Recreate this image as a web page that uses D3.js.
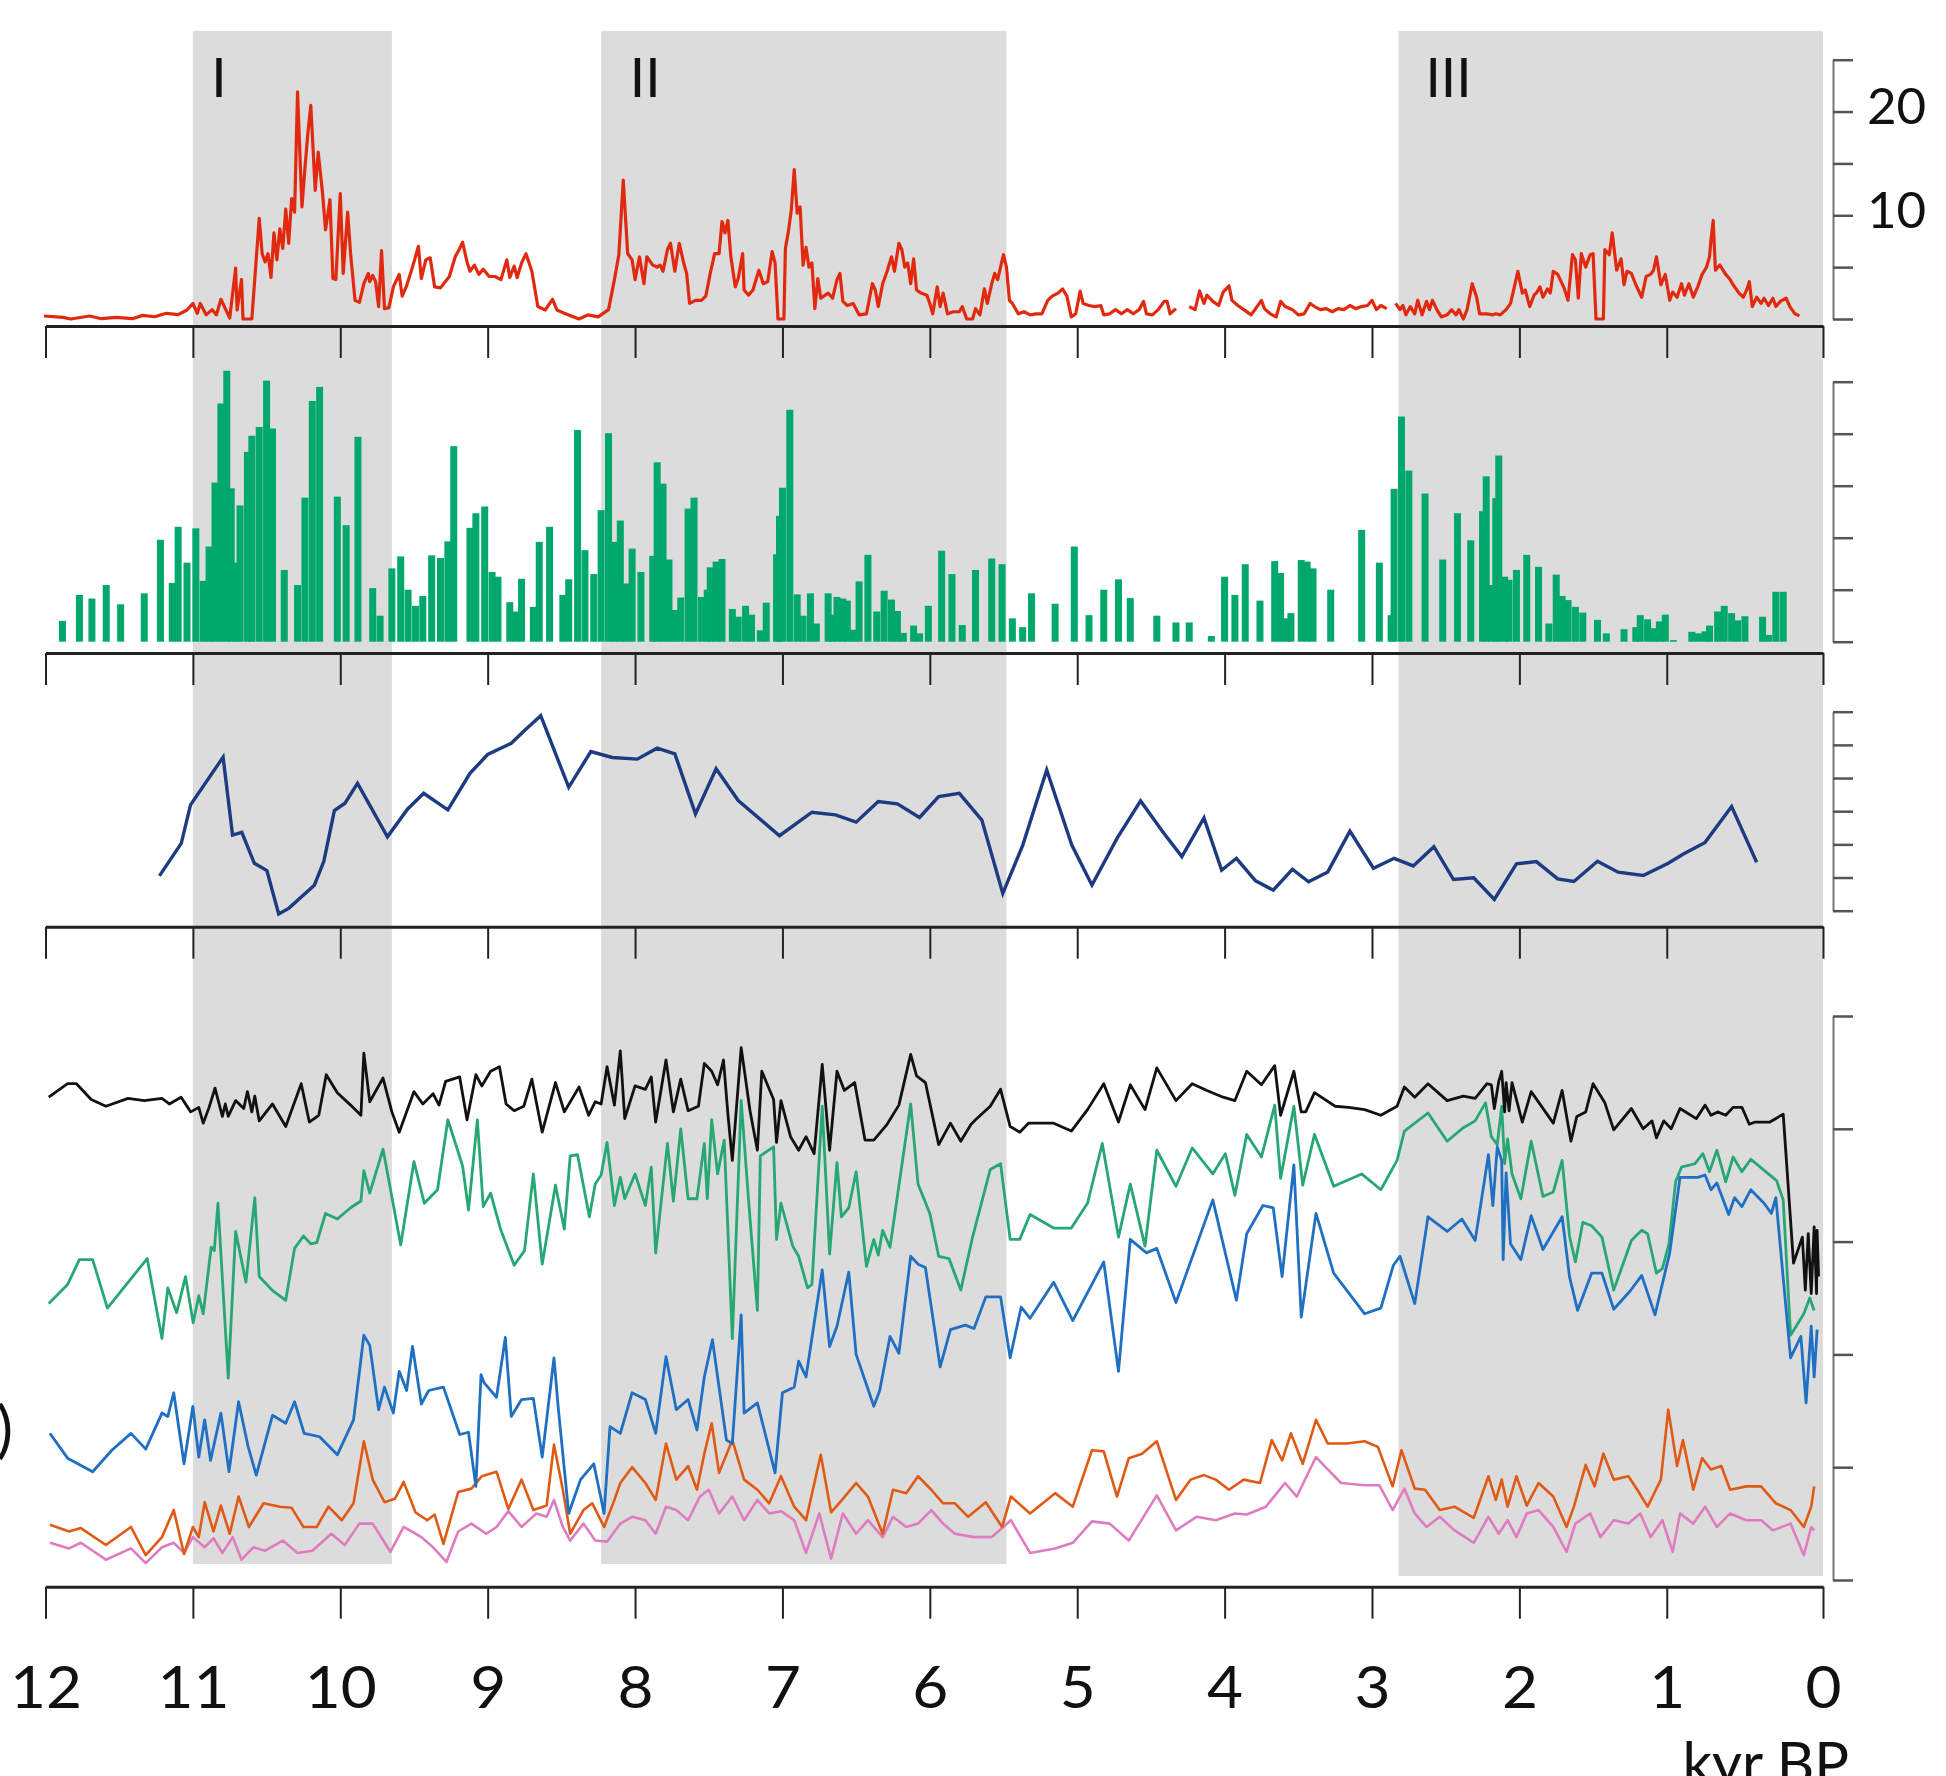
<!DOCTYPE html>
<html>
<head>
<meta charset="utf-8">
<script src="https://cdn.jsdelivr.net/npm/d3@7"></script>
<style>
  html, body { margin: 0; padding: 0; background: #fff; }
  svg { display: block; font-family: Lato, "Open Sans", sans-serif; }
</style>
</head>
<body>
<svg id="chart" width="1946" height="1776"></svg>
<script>
// shaded intervals (kyr BP) and their labels
const bands = [[11.0, 9.65], [8.23, 5.48], [2.82, -0.06]];
const bandLabels = ["I", "II", "III"];

// top record, [age, value]; null = gap in the record
const redSeries = [[12.01,0.29],[11.88,0.16],[11.83,0],[11.70,0.29],[11.62,0.03],[11.52,0.16],[11.41,0.03],[11.34,0.35],[11.26,0.22],[11.18,0.55],[11.10,0.42],[11.04,0.87],[11.00,1.5],[10.97,0.55],[10.95,1.5],[10.91,0.4],[10.87,0.9],[10.84,0.4],[10.81,1.9],[10.78,1.0],[10.75,0.1],[10.71,4.9],[10.70,0.87],[10.67,3.8],[10.66,0],[10.60,0],[10.55,9.7],[10.53,6.3],[10.51,5.5],[10.49,6.3],[10.47,4.0],[10.45,8.3],[10.43,5.7],[10.41,8.7],[10.39,6.8],[10.37,10.6],[10.35,7.3],[10.33,11.6],[10.31,10.3],[10.29,21.9],[10.26,10.8],[10.24,14.5],[10.22,17.9],[10.20,20.6],[10.19,17.9],[10.17,12.4],[10.15,16.1],[10.12,12.1],[10.10,8.6],[10.07,11.5],[10.05,3.9],[10.03,3.8],[10.00,12.1],[9.98,4.4],[9.95,10.3],[9.93,6.3],[9.90,1.8],[9.87,1.6],[9.84,3.4],[9.81,4.4],[9.80,3.6],[9.78,4.2],[9.76,3.6],[9.74,1.2],[9.72,6.6],[9.70,1.0],[9.67,1.1],[9.64,3.1],[9.60,4.3],[9.58,2.2],[9.55,3.2],[9.51,5.0],[9.47,7.0],[9.45,3.9],[9.42,5.7],[9.39,5.9],[9.36,3.1],[9.32,3.0],[9.26,4.1],[9.22,6.0],[9.19,6.8],[9.17,7.4],[9.14,5.5],[9.12,4.6],[9.09,5.2],[9.06,4.3],[9.03,4.8],[8.99,4.1],[8.95,4.1],[8.91,3.8],[8.87,5.7],[8.85,4.0],[8.82,5.1],[8.80,4.0],[8.77,5.4],[8.74,6.3],[8.70,4.6],[8.66,1.2],[8.61,0.87],[8.56,1.9],[8.53,0.87],[8.48,0.55],[8.42,0.22],[8.38,0],[8.32,0.4],[8.25,0.2],[8.18,0.9],[8.14,3.8],[8.11,6.2],[8.08,13.4],[8.05,6.3],[8.02,5.7],[8.00,3.8],[7.97,6.0],[7.94,3.4],[7.92,6.0],[7.88,5.2],[7.85,5.0],[7.83,5.2],[7.81,4.6],[7.78,6.7],[7.76,7.3],[7.73,4.6],[7.70,7.3],[7.67,5.4],[7.65,4.4],[7.63,1.5],[7.59,1.8],[7.55,1.8],[7.52,2.2],[7.49,4.4],[7.46,6.3],[7.43,6.3],[7.41,9.4],[7.39,8.3],[7.37,9.5],[7.35,6.0],[7.32,3.1],[7.30,3.9],[7.27,6.3],[7.26,2.8],[7.23,2.3],[7.20,2.8],[7.16,4.7],[7.13,3.4],[7.10,3.6],[7.07,6.5],[7.05,5.4],[7.03,0],[6.99,0],[6.98,6.8],[6.96,8.4],[6.94,10.5],[6.92,14.4],[6.90,10.2],[6.88,10.8],[6.86,5.2],[6.84,6.9],[6.82,5.0],[6.80,5.4],[6.78,1.0],[6.76,3.9],[6.74,2.0],[6.71,2.3],[6.69,2.5],[6.66,2.0],[6.63,3.8],[6.61,4.4],[6.59,1.7],[6.56,1.3],[6.52,1.5],[6.48,0.4],[6.43,0.5],[6.39,3.4],[6.37,2.8],[6.35,1.2],[6.32,3.4],[6.29,4.6],[6.26,6.0],[6.24,4.6],[6.21,7.3],[6.19,6.7],[6.17,5.0],[6.15,5.4],[6.13,3.4],[6.11,5.8],[6.09,2.8],[6.06,2.5],[6.02,2.3],[6.00,1.5],[5.98,0.5],[5.95,3.1],[5.93,1.2],[5.91,2.5],[5.88,0.5],[5.84,0.7],[5.80,0.7],[5.78,1.2],[5.75,0],[5.71,0],[5.69,1.0],[5.66,0.4],[5.63,2.9],[5.61,1.5],[5.58,3.4],[5.56,4.4],[5.54,3.8],[5.50,6.2],[5.48,5.0],[5.46,1.8],[5.44,1.5],[5.40,0.5],[5.36,0.7],[5.32,0.4],[5.28,0.5],[5.24,0.5],[5.20,1.8],[5.17,2.2],[5.13,2.5],[5.10,2.9],[5.07,2.2],[5.04,0.2],[5.01,0.5],[4.98,2.7],[4.96,1.5],[4.92,1.3],[4.88,1.2],[4.84,1.3],[4.82,0.4],[4.78,0.5],[4.74,0.9],[4.70,0.5],[4.66,0.9],[4.62,0.5],[4.58,0.9],[4.55,1.7],[4.53,0.5],[4.49,0.4],[4.45,0.9],[4.41,1.7],[4.39,1.7],[4.37,0.5],[4.33,1.0],[4.29,null],[4.24,1.2],[4.20,0.9],[4.17,2.7],[4.14,1.5],[4.12,2.3],[4.08,1.7],[4.04,1.3],[4.01,2.6],[3.97,3.2],[3.95,1.8],[3.91,1.3],[3.87,0.9],[3.82,0.4],[3.78,1.2],[3.75,1.8],[3.73,1.0],[3.69,0.5],[3.65,0.2],[3.62,1.7],[3.59,1.2],[3.54,0.9],[3.50,0.4],[3.46,0.5],[3.42,1.5],[3.39,1.2],[3.35,0.9],[3.31,1.0],[3.27,0.7],[3.23,1.0],[3.19,0.9],[3.15,1.3],[3.11,1.0],[3.07,1.2],[3.03,1.3],[3.00,1.8],[2.97,0.9],[2.94,1.3],[2.90,1.0],[2.87,null],[2.84,1.5],[2.81,0.9],[2.79,1.3],[2.77,0.4],[2.74,1.2],[2.71,0.5],[2.69,1.8],[2.66,0.4],[2.63,1.7],[2.61,0.9],[2.59,1.8],[2.56,0.9],[2.53,0.2],[2.49,0.4],[2.46,0.9],[2.43,0.4],[2.41,0.9],[2.38,0],[2.355,0.9],[2.32,3.4],[2.29,2.1],[2.27,0.5],[2.22,0.5],[2.18,0.4],[2.16,0.5],[2.13,0.4],[2.09,0.9],[2.06,1.5],[2.01,4.6],[1.98,2.5],[1.96,2.8],[1.93,1.2],[1.90,2.3],[1.88,2.6],[1.86,3.1],[1.84,2.1],[1.81,2.9],[1.79,2.5],[1.77,4.6],[1.74,4.3],[1.70,3.1],[1.67,1.8],[1.64,6.2],[1.62,5.7],[1.60,2.0],[1.58,6.3],[1.55,5.0],[1.52,6.2],[1.50,6.3],[1.48,0],[1.43,0],[1.42,6.7],[1.39,6.2],[1.37,8.3],[1.34,4.7],[1.31,5.8],[1.29,3.3],[1.27,4.6],[1.24,4.4],[1.21,3.3],[1.17,2.1],[1.14,4.1],[1.11,4.3],[1.09,4.7],[1.07,6.0],[1.04,3.3],[1.01,4.3],[0.98,1.8],[0.96,2.6],[0.93,2.1],[0.90,3.4],[0.88,2.3],[0.85,3.4],[0.82,2.1],[0.79,3.1],[0.76,4.3],[0.73,5.0],[0.71,6.0],[0.70,7.6],[0.685,9.5],[0.67,4.7],[0.64,5.2],[0.60,4.3],[0.57,3.8],[0.55,3.3],[0.51,2.5],[0.48,2.1],[0.455,2.9],[0.44,3.6],[0.42,1.2],[0.39,2.1],[0.36,1.5],[0.34,2.0],[0.31,1.3],[0.28,2.0],[0.26,1.2],[0.23,1.7],[0.19,2.0],[0.165,1.2],[0.13,0.5],[0.10,0.3]];

// second record, bars, [age, value]
const greenBars = [[11.885,0.40],[11.77,0.90],[11.685,0.83],[11.588,1.09],[11.49,0.72],[11.33,0.93],[11.22,1.96],[11.14,1.13],[11.10,2.21],[11.04,1.52],[10.98,2.18],[10.93,1.17],[10.89,1.83],[10.85,3.06],[10.81,4.58],[10.77,5.21],[10.74,2.95],[10.71,1.52],[10.68,2.62],[10.63,3.65],[10.60,3.96],[10.55,4.13],[10.50,5.02],[10.46,4.10],[10.38,1.38],[10.29,1.09],[10.24,2.77],[10.19,4.63],[10.14,4.90],[10.02,2.79],[9.96,2.24],[9.88,3.94],[9.78,1.03],[9.73,0.50],[9.65,1.41],[9.59,1.64],[9.54,1.00],[9.49,0.69],[9.44,0.88],[9.38,1.66],[9.32,1.61],[9.27,1.93],[9.23,3.76],[9.12,2.19],[9.08,2.47],[9.02,2.60],[8.97,1.34],[8.93,1.25],[8.85,0.76],[8.81,0.58],[8.77,1.21],[8.69,0.67],[8.65,1.92],[8.58,2.21],[8.49,0.90],[8.45,1.20],[8.39,4.07],[8.34,1.76],[8.28,1.30],[8.23,2.53],[8.18,4.01],[8.14,1.92],[8.10,2.33],[8.06,1.12],[8.02,1.79],[7.96,1.34],[7.88,1.65],[7.85,3.45],[7.81,3.04],[7.77,1.58],[7.73,0.61],[7.69,0.85],[7.64,2.56],[7.60,2.77],[7.55,0.86],[7.51,1.00],[7.49,1.43],[7.45,1.54],[7.41,1.59],[7.34,0.63],[7.30,0.48],[7.25,0.69],[7.21,0.52],[7.15,0.22],[7.11,0.75],[7.04,1.68],[7.02,2.42],[7.00,2.96],[6.95,4.46],[6.90,0.91],[6.86,0.50],[6.81,0.93],[6.77,0.35],[6.69,0.93],[6.66,0.52],[6.63,0.86],[6.59,0.83],[6.56,0.79],[6.52,0.23],[6.48,1.16],[6.42,1.67],[6.36,0.58],[6.31,0.98],[6.26,0.81],[6.22,0.59],[6.18,0.17],[6.11,0.31],[6.07,0.16],[6.01,0.69],[5.92,1.75],[5.85,1.30],[5.78,0.32],[5.69,1.38],[5.58,1.60],[5.51,1.49],[5.44,0.45],[5.37,0.28],[5.31,0.93],[5.15,0.73],[5.02,1.83],[4.92,0.51],[4.82,1.00],[4.72,1.20],[4.64,0.84],[4.46,0.50],[4.33,0.37],[4.24,0.37],[4.09,0.11],[4.00,1.25],[3.93,0.90],[3.86,1.49],[3.76,0.79],[3.66,1.55],[3.62,1.32],[3.58,0.45],[3.55,0.55],[3.48,1.57],[3.44,1.54],[3.40,1.41],[3.28,1.00],[3.07,2.15],[2.95,1.52],[2.87,0.51],[2.85,2.94],[2.80,4.33],[2.75,3.29],[2.64,2.85],[2.52,1.58],[2.42,2.47],[2.33,1.95],[2.25,2.51],[2.225,3.18],[2.19,1.09],[2.16,2.76],[2.14,3.58],[2.10,1.25],[2.07,1.19],[2.02,1.38],[1.95,1.67],[1.87,1.44],[1.80,0.35],[1.75,1.29],[1.71,0.88],[1.67,0.80],[1.62,0.67],[1.57,0.56],[1.47,0.42],[1.41,0.16],[1.29,0.24],[1.21,0.28],[1.18,0.51],[1.13,0.43],[1.09,0.26],[1.05,0.39],[1.01,0.52],[0.955,0.03],[0.83,0.19],[0.785,0.16],[0.74,0.20],[0.71,0.31],[0.655,0.58],[0.61,0.69],[0.56,0.55],[0.52,0.41],[0.47,0.49],[0.35,0.48],[0.31,0.13],[0.26,0.96],[0.21,0.96]];

// third record, [age, value]
const navySeries = [[11.227,1.05],[11.079,2.03],[11.016,3.19],[10.795,4.63],[10.731,2.28],[10.668,2.36],[10.583,1.43],[10.498,1.21],[10.418,-0.10],[10.35,0.07],[10.176,0.77],[10.112,1.48],[10.04,3.02],[9.968,3.24],[9.883,3.84],[9.68,2.23],[9.544,3.06],[9.434,3.54],[9.27,3.04],[9.12,4.14],[9.0,4.71],[8.84,5.05],[8.75,5.43],[8.64,5.88],[8.45,3.72],[8.30,4.80],[8.155,4.62],[7.985,4.57],[7.85,4.90],[7.73,4.73],[7.59,2.92],[7.45,4.28],[7.30,3.32],[7.02,2.26],[6.80,2.97],[6.64,2.89],[6.50,2.67],[6.35,3.29],[6.22,3.22],[6.07,2.81],[5.94,3.44],[5.80,3.54],[5.647,2.73],[5.505,0.52],[5.37,1.97],[5.207,4.24],[5.036,1.97],[4.90,0.77],[4.73,2.18],[4.57,3.31],[4.42,2.38],[4.29,1.63],[4.14,2.80],[4.02,1.22],[3.92,1.58],[3.79,0.90],[3.67,0.62],[3.54,1.25],[3.43,0.87],[3.30,1.17],[3.15,2.40],[2.99,1.28],[2.85,1.58],[2.72,1.35],[2.58,1.93],[2.447,0.94],[2.31,0.99],[2.17,0.34],[2.02,1.41],[1.885,1.48],[1.74,0.96],[1.63,0.88],[1.47,1.49],[1.33,1.16],[1.16,1.06],[0.99,1.43],[0.89,1.70],[0.74,2.06],[0.56,3.14],[0.39,1.46]];

// bottom panel, five curves, [age, value]
const blackSeries = [[11.978,4.28],[11.85,4.40],[11.79,4.40],[11.69,4.26],[11.59,4.20],[11.44,4.27],[11.33,4.25],[11.21,4.27],[11.16,4.22],[11.08,4.28],[11.015,4.15],[10.96,4.19],[10.93,4.05],[10.89,4.19],[10.85,4.36],[10.80,4.11],[10.78,4.22],[10.76,4.11],[10.71,4.25],[10.655,4.18],[10.63,4.33],[10.60,4.15],[10.58,4.29],[10.55,4.07],[10.46,4.22],[10.37,4.02],[10.265,4.40],[10.21,4.06],[10.146,4.12],[10.095,4.48],[10.02,4.32],[9.93,4.21],[9.86,4.12],[9.84,4.67],[9.80,4.24],[9.71,4.45],[9.65,4.15],[9.60,3.97],[9.50,4.33],[9.44,4.22],[9.37,4.31],[9.33,4.21],[9.285,4.42],[9.19,4.46],[9.14,4.08],[9.08,4.48],[9.04,4.38],[8.98,4.51],[8.92,4.55],[8.875,4.22],[8.82,4.16],[8.755,4.20],[8.70,4.44],[8.63,3.97],[8.54,4.41],[8.48,4.15],[8.38,4.37],[8.315,4.12],[8.27,4.24],[8.23,4.22],[8.19,4.55],[8.14,4.21],[8.10,4.69],[8.07,4.09],[8.00,4.38],[7.93,4.35],[7.89,4.46],[7.86,4.06],[7.79,4.61],[7.74,4.15],[7.69,4.44],[7.64,4.16],[7.57,4.20],[7.53,4.58],[7.48,4.51],[7.44,4.39],[7.40,4.61],[7.37,4.13],[7.34,3.72],[7.28,4.72],[7.22,4.16],[7.17,3.81],[7.14,4.51],[7.06,4.26],[7.04,3.88],[7.01,4.25],[6.945,3.93],[6.89,3.81],[6.84,3.93],[6.785,3.78],[6.73,4.57],[6.68,3.81],[6.63,4.51],[6.58,4.34],[6.51,4.41],[6.44,3.90],[6.38,3.90],[6.29,4.04],[6.21,4.21],[6.13,4.66],[6.09,4.47],[6.03,4.41],[5.94,3.86],[5.86,4.05],[5.79,3.89],[5.72,4.04],[5.69,4.08],[5.59,4.20],[5.52,4.35],[5.455,4.02],[5.39,3.97],[5.33,4.05],[5.16,4.05],[5.04,3.98],[4.93,4.17],[4.82,4.40],[4.72,4.06],[4.64,4.39],[4.54,4.17],[4.46,4.54],[4.33,4.25],[4.22,4.40],[4.12,4.34],[4.01,4.28],[3.93,4.25],[3.85,4.51],[3.75,4.39],[3.66,4.56],[3.62,4.12],[3.53,4.51],[3.48,4.15],[3.45,4.15],[3.39,4.32],[3.25,4.20],[3.16,4.19],[3.05,4.17],[2.94,4.12],[2.83,4.20],[2.78,4.37],[2.71,4.28],[2.62,4.40],[2.49,4.25],[2.38,4.29],[2.30,4.27],[2.22,4.40],[2.19,4.39],[2.17,4.18],[2.14,4.42],[2.12,4.51],[2.10,4.15],[2.09,4.41],[2.07,4.16],[2.05,4.41],[1.98,4.06],[1.92,4.33],[1.77,4.05],[1.71,4.34],[1.65,3.89],[1.61,4.11],[1.55,4.15],[1.50,4.40],[1.42,4.23],[1.36,3.99],[1.24,4.18],[1.16,4.00],[1.10,4.07],[1.07,3.92],[1.02,4.07],[0.97,4.00],[0.91,4.18],[0.80,4.09],[0.74,4.21],[0.70,4.12],[0.655,4.15],[0.60,4.12],[0.55,4.19],[0.49,4.19],[0.44,4.04],[0.40,4.06],[0.30,4.06],[0.21,4.13],[0.14,2.81],[0.08,3.04],[0.06,2.57],[0.04,3.07],[0.02,2.54],[0.0,3.13],[-0.016,2.54],[-0.02,3.10],[-0.03,2.69]];

const tealSeries = [[11.978,2.45],[11.85,2.62],[11.77,2.84],[11.68,2.84],[11.58,2.41],[11.31,2.85],[11.21,2.14],[11.17,2.59],[11.11,2.37],[11.05,2.69],[10.998,2.28],[10.96,2.52],[10.93,2.36],[10.876,2.95],[10.855,2.92],[10.83,3.34],[10.76,1.79],[10.71,3.09],[10.64,2.64],[10.58,3.39],[10.55,2.69],[10.455,2.56],[10.37,2.48],[10.31,2.94],[10.25,3.05],[10.20,2.98],[10.16,2.99],[10.10,3.25],[10.02,3.20],[9.93,3.30],[9.86,3.36],[9.84,3.63],[9.80,3.43],[9.71,3.82],[9.59,2.97],[9.50,3.71],[9.43,3.34],[9.34,3.46],[9.27,4.08],[9.17,3.67],[9.13,3.28],[9.07,4.08],[9.03,3.31],[8.98,3.43],[8.91,3.10],[8.82,2.79],[8.75,2.92],[8.69,3.60],[8.63,2.80],[8.54,3.50],[8.48,3.11],[8.44,3.76],[8.39,3.77],[8.31,3.22],[8.27,3.51],[8.23,3.59],[8.19,3.88],[8.14,3.32],[8.10,3.57],[8.07,3.38],[8.00,3.60],[7.93,3.32],[7.89,3.66],[7.86,2.90],[7.78,3.87],[7.74,3.36],[7.69,4.00],[7.64,3.38],[7.58,3.38],[7.53,3.87],[7.51,3.38],[7.48,4.08],[7.44,3.60],[7.395,3.90],[7.34,2.14],[7.28,4.25],[7.23,3.37],[7.17,2.39],[7.15,3.76],[7.06,3.84],[7.04,3.02],[7.01,3.34],[6.93,2.96],[6.89,2.87],[6.83,2.59],[6.80,2.62],[6.73,4.20],[6.68,2.89],[6.63,3.70],[6.60,3.22],[6.55,3.30],[6.50,3.62],[6.43,2.78],[6.38,3.02],[6.35,2.88],[6.32,3.10],[6.27,2.95],[6.13,4.22],[6.08,3.51],[6.00,3.25],[5.94,2.87],[5.87,2.85],[5.79,2.57],[5.71,3.04],[5.59,3.64],[5.52,3.69],[5.455,3.02],[5.39,3.02],[5.32,3.24],[5.16,3.12],[5.04,3.12],[4.93,3.34],[4.83,3.87],[4.72,3.04],[4.64,3.51],[4.54,2.96],[4.46,3.81],[4.33,3.49],[4.22,3.83],[4.08,3.60],[3.995,3.78],[3.93,3.41],[3.85,3.95],[3.75,3.75],[3.66,4.21],[3.62,3.56],[3.53,4.20],[3.47,3.50],[3.39,3.95],[3.26,3.49],[3.07,3.60],[2.94,3.46],[2.83,3.72],[2.78,3.98],[2.62,4.14],[2.49,3.89],[2.38,4.01],[2.30,4.07],[2.23,4.23],[2.19,3.93],[2.15,3.86],[2.12,4.20],[2.10,3.69],[2.08,3.91],[2.05,3.60],[1.99,3.38],[1.92,3.89],[1.84,3.40],[1.77,3.44],[1.71,3.72],[1.66,3.05],[1.62,2.82],[1.57,3.17],[1.51,3.14],[1.44,3.04],[1.36,2.57],[1.24,3.01],[1.17,3.10],[1.13,3.07],[1.07,2.72],[1.03,2.76],[0.985,2.98],[0.94,3.53],[0.90,3.66],[0.81,3.69],[0.755,3.78],[0.71,3.62],[0.66,3.81],[0.60,3.53],[0.55,3.75],[0.49,3.62],[0.43,3.73],[0.30,3.59],[0.255,3.54],[0.21,3.37],[0.16,2.17],[0.07,2.36],[0.03,2.50],[0.0,2.39]];

const blueSeries = [[11.97,1.30],[11.85,1.08],[11.68,0.96],[11.55,1.15],[11.42,1.30],[11.32,1.16],[11.21,1.48],[11.17,1.45],[11.13,1.66],[11.06,1.03],[11.00,1.54],[10.96,1.09],[10.92,1.42],[10.88,1.06],[10.81,1.48],[10.755,0.96],[10.69,1.58],[10.625,1.18],[10.57,0.93],[10.46,1.46],[10.37,1.39],[10.31,1.58],[10.245,1.30],[10.14,1.27],[10.02,1.11],[9.91,1.42],[9.84,2.17],[9.80,2.08],[9.74,1.51],[9.70,1.71],[9.64,1.48],[9.60,1.85],[9.55,1.68],[9.51,2.07],[9.45,1.56],[9.40,1.68],[9.30,1.71],[9.19,1.29],[9.13,1.31],[9.08,0.83],[9.045,1.82],[9.025,1.75],[8.94,1.62],[8.88,2.15],[8.84,1.45],[8.77,1.60],[8.69,1.61],[8.63,1.09],[8.55,1.97],[8.52,1.51],[8.45,0.59],[8.37,0.89],[8.28,1.03],[8.21,0.59],[8.17,1.36],[8.10,1.30],[8.02,1.66],[7.93,1.60],[7.86,1.30],[7.79,1.98],[7.72,1.51],[7.64,1.60],[7.58,1.33],[7.53,1.80],[7.475,2.13],[7.38,1.24],[7.34,1.21],[7.28,2.35],[7.26,1.48],[7.17,1.57],[7.05,0.95],[7.00,1.66],[6.92,1.71],[6.89,1.94],[6.84,1.80],[6.73,2.75],[6.68,2.07],[6.63,2.25],[6.55,2.73],[6.50,2.00],[6.38,1.54],[6.34,1.68],[6.27,2.16],[6.21,2.01],[6.13,2.87],[6.08,2.80],[6.03,2.77],[5.93,1.89],[5.86,2.22],[5.76,2.26],[5.70,2.23],[5.62,2.51],[5.52,2.51],[5.455,1.97],[5.38,2.42],[5.32,2.32],[5.16,2.64],[5.03,2.30],[4.82,2.82],[4.72,1.85],[4.64,3.02],[4.53,2.90],[4.46,2.94],[4.33,2.46],[4.08,3.37],[3.92,2.48],[3.85,3.07],[3.74,3.32],[3.67,3.30],[3.61,2.69],[3.53,3.68],[3.48,2.33],[3.38,3.25],[3.26,2.72],[3.05,2.36],[2.94,2.41],[2.855,2.79],[2.81,2.87],[2.71,2.45],[2.62,3.22],[2.49,3.09],[2.39,3.20],[2.30,3.01],[2.21,3.77],[2.18,3.32],[2.15,3.84],[2.12,3.72],[2.11,2.84],[2.09,3.61],[2.06,2.98],[1.99,2.84],[1.92,3.23],[1.84,2.93],[1.71,3.22],[1.66,2.69],[1.605,2.39],[1.51,2.72],[1.44,2.72],[1.36,2.40],[1.25,2.56],[1.17,2.70],[1.08,2.35],[0.98,2.90],[0.91,3.57],[0.79,3.57],[0.74,3.59],[0.70,3.46],[0.66,3.52],[0.58,3.24],[0.54,3.39],[0.49,3.31],[0.43,3.46],[0.34,3.34],[0.29,3.25],[0.26,3.39],[0.16,1.97],[0.09,2.16],[0.055,1.57],[0.02,2.25],[0.0,1.80],[-0.02,2.22]];

const orangeSeries = [[11.97,0.49],[11.84,0.43],[11.76,0.46],[11.59,0.31],[11.42,0.47],[11.32,0.22],[11.21,0.38],[11.13,0.62],[11.06,0.23],[11.0,0.47],[10.96,0.38],[10.92,0.69],[10.86,0.43],[10.81,0.66],[10.75,0.41],[10.69,0.74],[10.62,0.47],[10.52,0.68],[10.41,0.65],[10.33,0.64],[10.25,0.47],[10.16,0.47],[10.08,0.65],[9.99,0.53],[9.91,0.68],[9.84,1.23],[9.78,0.89],[9.70,0.69],[9.63,0.72],[9.57,0.87],[9.49,0.60],[9.41,0.53],[9.36,0.58],[9.30,0.32],[9.20,0.78],[9.11,0.81],[9.04,0.92],[8.94,0.96],[8.86,0.63],[8.77,0.89],[8.69,0.62],[8.60,0.66],[8.55,1.20],[8.49,0.80],[8.44,0.41],[8.35,0.62],[8.29,0.68],[8.21,0.47],[8.14,0.71],[8.10,0.86],[8.02,1.00],[7.93,0.86],[7.86,0.71],[7.79,1.21],[7.72,0.89],[7.64,1.01],[7.58,0.80],[7.53,1.12],[7.48,1.39],[7.43,0.95],[7.34,1.24],[7.26,0.89],[7.17,0.80],[7.09,0.68],[7.01,0.92],[6.92,0.65],[6.84,0.53],[6.74,1.11],[6.67,0.60],[6.59,0.72],[6.50,0.86],[6.42,0.74],[6.32,0.41],[6.25,0.80],[6.16,0.77],[6.08,0.92],[5.99,0.80],[5.91,0.68],[5.83,0.68],[5.74,0.56],[5.62,0.69],[5.51,0.47],[5.45,0.74],[5.32,0.59],[5.15,0.77],[5.03,0.65],[4.90,1.15],[4.82,1.14],[4.73,0.74],[4.65,1.08],[4.56,1.12],[4.46,1.23],[4.33,0.71],[4.23,0.89],[4.14,0.93],[4.06,0.89],[3.97,0.80],[3.87,0.89],[3.76,0.86],[3.68,1.24],[3.61,1.06],[3.55,1.30],[3.47,1.03],[3.38,1.42],[3.30,1.21],[3.17,1.21],[3.05,1.23],[2.96,1.18],[2.86,0.83],[2.80,1.15],[2.71,0.81],[2.64,0.80],[2.54,0.62],[2.44,0.65],[2.31,0.55],[2.21,0.92],[2.16,0.71],[2.12,0.89],[2.08,0.65],[2.02,0.92],[1.95,0.66],[1.87,0.86],[1.77,0.74],[1.68,0.47],[1.63,0.65],[1.55,1.02],[1.49,0.83],[1.43,1.12],[1.36,0.89],[1.26,0.92],[1.20,0.80],[1.13,0.65],[1.04,0.89],[0.99,1.51],[0.93,1.01],[0.89,1.24],[0.82,0.80],[0.76,1.08],[0.70,0.98],[0.63,1.01],[0.57,0.80],[0.46,0.83],[0.36,0.83],[0.26,0.68],[0.16,0.62],[0.07,0.47],[0.02,0.65],[0.0,0.83]];

const pinkSeries = [[11.97,0.33],[11.84,0.28],[11.76,0.33],[11.59,0.18],[11.42,0.28],[11.32,0.15],[11.21,0.29],[11.13,0.33],[11.06,0.24],[11.0,0.38],[10.92,0.29],[10.86,0.37],[10.80,0.24],[10.73,0.38],[10.67,0.18],[10.59,0.29],[10.51,0.26],[10.39,0.35],[10.29,0.24],[10.19,0.26],[10.06,0.41],[9.97,0.31],[9.87,0.50],[9.78,0.50],[9.66,0.25],[9.57,0.47],[9.45,0.38],[9.37,0.29],[9.28,0.16],[9.20,0.43],[9.11,0.50],[9.01,0.41],[8.94,0.47],[8.86,0.61],[8.77,0.47],[8.67,0.59],[8.60,0.56],[8.55,0.71],[8.49,0.47],[8.44,0.35],[8.35,0.50],[8.27,0.35],[8.19,0.34],[8.10,0.50],[8.02,0.56],[7.93,0.53],[7.86,0.41],[7.79,0.65],[7.72,0.62],[7.64,0.53],[7.56,0.74],[7.50,0.80],[7.43,0.59],[7.34,0.74],[7.26,0.53],[7.17,0.71],[7.09,0.59],[7.01,0.61],[6.92,0.53],[6.84,0.24],[6.75,0.59],[6.67,0.19],[6.59,0.59],[6.50,0.41],[6.42,0.53],[6.32,0.38],[6.25,0.56],[6.16,0.47],[6.08,0.50],[5.99,0.62],[5.91,0.50],[5.83,0.41],[5.70,0.38],[5.58,0.38],[5.45,0.53],[5.32,0.24],[5.15,0.28],[5.03,0.33],[4.90,0.52],[4.78,0.50],[4.65,0.35],[4.46,0.75],[4.33,0.44],[4.19,0.56],[4.06,0.53],[3.93,0.59],[3.85,0.58],[3.72,0.65],[3.59,0.86],[3.51,0.74],[3.38,1.09],[3.30,0.98],[3.21,0.86],[3.05,0.84],[2.95,0.84],[2.86,0.62],[2.78,0.81],[2.71,0.59],[2.63,0.47],[2.54,0.56],[2.44,0.44],[2.31,0.33],[2.21,0.56],[2.14,0.41],[2.08,0.53],[2.02,0.38],[1.95,0.59],[1.87,0.62],[1.77,0.47],[1.68,0.25],[1.62,0.50],[1.52,0.59],[1.45,0.38],[1.36,0.53],[1.26,0.50],[1.18,0.59],[1.11,0.38],[1.03,0.53],[0.96,0.25],[0.91,0.59],[0.82,0.50],[0.74,0.65],[0.66,0.47],[0.57,0.59],[0.46,0.53],[0.36,0.53],[0.28,0.44],[0.16,0.50],[0.07,0.22],[0.02,0.47],[0.0,0.44]];

const ageTicks = [12, 11, 10, 9, 8, 7, 6, 5, 4, 3, 2, 1];
const redTicks = [0, 5, 10, 15, 20, 25];

const svg = d3.select("#chart");
const x = d3.scaleLinear().domain([12, -0.06]).range([45.5, 1823]);
const xEnd = x.domain()[1];

// vertical scales of the four stacked panels
const yRed = d3.scaleLinear().domain([0, 25]).range([319, 59.7]);
const yBar = d3.scaleLinear().domain([0, 5]).range([641.7, 381.7]);
const yNavy = d3.scaleLinear().domain([0, 6]).range([910.7, 711.7]);
const yLow = d3.scaleLinear().domain([0, 5]).range([1580, 1016]);

// grey intervals
svg.append("g").selectAll("rect")
  .data(bands)
  .join("rect")
  .attr("x", d => x(d[0]))
  .attr("width", d => x(d[1]) - x(d[0]))
  .attr("y", 31)
  .attr("height", (d, i) => (i === 2 ? 1576 : 1564) - 31)
  .attr("fill", "#dcdcdc");

svg.append("g").selectAll("text")
  .data(bands)
  .join("text")
  .attr("x", (d, i) => x(d[0]) + [26, 44, 50][i])
  .attr("y", 97)
  .attr("text-anchor", "middle")
  .attr("font-size", 55)
  .attr("fill", "#111")
  .text((d, i) => bandLabels[i]);

// bottom axes of each panel
const axisRows = [326, 653, 926.7, 1586.7];
axisRows.forEach((yy, i) => {
  const g = svg.append("g")
    .attr("transform", `translate(0,${yy})`)
    .call(d3.axisBottom(x)
      .tickValues(ageTicks.concat([xEnd]))
      .tickSize(32)
      .tickSizeOuter(0)
      .tickFormat(d => (i === 3 ? (d < 0 ? "0" : d) : "")));
  g.select(".domain").attr("stroke", "#222").attr("stroke-width", 3);
  g.selectAll(".tick line").attr("stroke", "#222").attr("stroke-width", 2);
  g.selectAll(".tick text")
    .attr("y", 121)
    .attr("dy", null)
    .attr("font-size", 58)
    .attr("font-family", "Lato")
    .attr("fill", "#111")
    .filter(function () { return this.textContent !== ""; })
    .attr("textLength", function () { return this.textContent.length * 36; })
    .attr("lengthAdjust", "spacingAndGlyphs");
});

// right-hand value axes
function rightAxis(scale, ticks, fmt) {
  const g = svg.append("g")
    .attr("transform", "translate(1833,0)")
    .call(d3.axisRight(scale)
      .tickValues(ticks)
      .tickSize(20)
      .tickSizeOuter(0)
      .tickPadding(14)
      .tickFormat(fmt));
  g.select(".domain").attr("stroke", "#777").attr("stroke-width", 2);
  g.selectAll(".tick line").attr("stroke", "#555").attr("stroke-width", 2.5);
  g.selectAll(".tick text")
    .attr("dy", "0.24em")
    .attr("font-size", 51)
    .attr("font-family", "Lato")
    .attr("fill", "#111");
}
rightAxis(yRed, redTicks, d => (d === 10 || d === 20 ? d : ""));
rightAxis(yBar, d3.range(0, 6), () => "");
rightAxis(yNavy, d3.range(0, 7), () => "");
rightAxis(yLow, d3.range(0, 6), () => "");

// panel 1
const lineRed = d3.line()
  .defined(d => d[1] !== null)
  .x(d => x(d[0]))
  .y(d => yRed(d[1]));
svg.append("path")
  .datum(redSeries)
  .attr("d", lineRed)
  .attr("fill", "none")
  .attr("stroke", "#e1290f")
  .attr("stroke-width", 3.2)
  .attr("stroke-linejoin", "round");

// panel 2
const barW = 7;
svg.append("g").selectAll("rect")
  .data(greenBars)
  .join("rect")
  .attr("x", d => x(d[0]) - barW / 2)
  .attr("width", barW)
  .attr("y", d => yBar(d[1]))
  .attr("height", d => yBar(0) - yBar(d[1]))
  .attr("fill", "#00a86b");

// panel 3
svg.append("path")
  .datum(navySeries)
  .attr("d", d3.line().x(d => x(d[0])).y(d => yNavy(d[1])))
  .attr("fill", "none")
  .attr("stroke", "#1c3b80")
  .attr("stroke-width", 3.4);

// panel 4
const lineLow = d3.line().x(d => x(d[0])).y(d => yLow(d[1]));
const lowCurves = [
  [pinkSeries, "#df7cc0", 2.6],
  [orangeSeries, "#e05a14", 2.6],
  [tealSeries, "#26a774", 2.8],
  [blueSeries, "#1f6fc2", 2.8],
  [blackSeries, "#111111", 2.8]
];
lowCurves.forEach(([data, color, w]) => {
  svg.append("path")
    .datum(data)
    .attr("d", lineLow)
    .attr("fill", "none")
    .attr("stroke", color)
    .attr("stroke-width", w)
    .attr("stroke-linejoin", "round");
});

// cut-off pieces of the original page
svg.append("text")
  .attr("x", 13)
  .attr("y", 1451)
  .attr("text-anchor", "end")
  .attr("font-size", 62)
  .attr("fill", "#111")
  .text(")");

svg.append("text")
  .attr("x", 1849)
  .attr("y", 1784)
  .attr("text-anchor", "end")
  .attr("font-size", 58)
  .attr("fill", "#111")
  .text("kyr BP");
</script>
</body>
</html>
